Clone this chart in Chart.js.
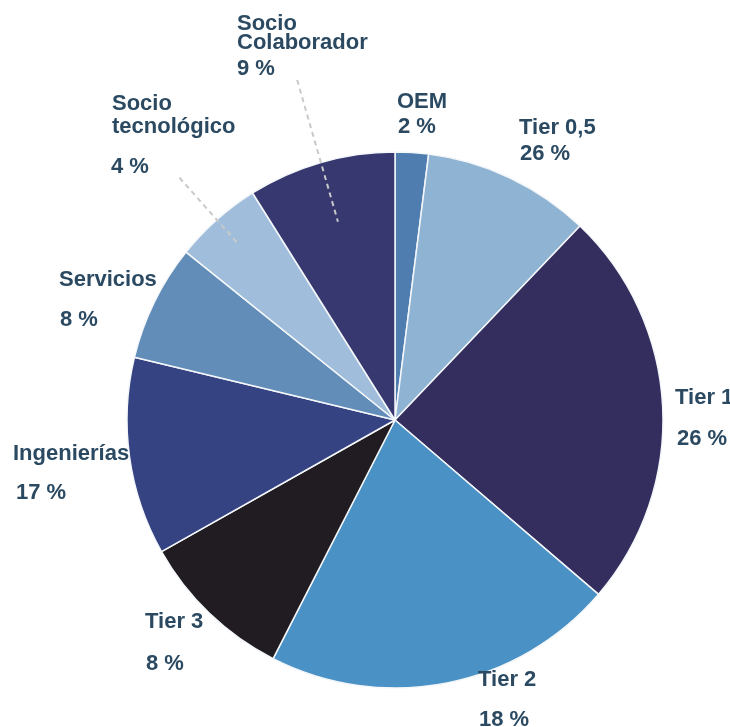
<!DOCTYPE html>
<html>
<head>
<meta charset="utf-8">
<script src="https://cdn.jsdelivr.net/npm/chart.js@4/dist/chart.umd.min.js"></script>
<style>
html,body{margin:0;padding:0;background:#fff;}
#wrap{position:relative;width:730px;height:727px;}
</style>
</head>
<body>
<div id="wrap"><canvas id="c" width="730" height="727"></canvas></div>
<script>
// Data (clockwise from 12 o'clock)
const categories = ['OEM', 'Tier 0,5', 'Tier 1', 'Tier 2', 'Tier 3', 'Ingenierías', 'Servicios', 'Socio tecnológico', 'Socio Colaborador'];
const sliceValues = [2.0, 10.1, 24.1, 21.2, 9.3, 11.9, 7.0, 5.3, 8.9];
const labelTexts = [['OEM'], ['Tier 0,5'], ['Tier 1'], ['Tier 2'], ['Tier 3'], ['Ingenierías'], ['Servicios'], ['Socio', 'tecnológico'], ['Socio', 'Colaborador']];
const percentLabels = ['2 %', '26 %', '26 %', '18 %', '8 %', '17 %', '8 %', '4 %', '9 %'];
const sliceColors = ['#4f7db0', '#8fb3d3', '#332e5e', '#4a91c5', '#211c21', '#364383', '#628db9', '#a0bedb', '#36386f'];

// Label layout (pixel baselines for name lines, then percentage line)
const labelLayout = [
  {x: 397, ys: [108], px: 398, py: 133},
  {x: 519, ys: [134], px: 520, py: 160},
  {x: 675, ys: [404], px: 677, py: 445},
  {x: 478, ys: [686], px: 479, py: 726},
  {x: 145, ys: [628], px: 146, py: 670},
  {x: 13,  ys: [460], px: 16,  py: 499},
  {x: 59,  ys: [286], px: 60,  py: 326},
  {x: 112, ys: [110, 133], px: 111, py: 173},
  {x: 237, ys: [30, 49], px: 237, py: 75}
];
// leader lines: [index, outer radius factor, inner radius factor]
const leaders = [[7, 1.21, 0.88], [8, 1.32, 0.77]];

const labelPlugin = {
  id: 'sliceLabels',
  afterDatasetsDraw(chart) {
    const ctx = chart.ctx;
    const meta = chart.getDatasetMeta(0);
    ctx.save();
    // leader lines
    ctx.strokeStyle = '#c9c9c9';
    ctx.lineWidth = 2;
    ctx.setLineDash([5, 4]);
    leaders.forEach(([i, ro, ri]) => {
      const arc = meta.data[i];
      const a = (arc.startAngle + arc.endAngle) / 2;
      const R = arc.outerRadius;
      ctx.beginPath();
      ctx.moveTo(arc.x + Math.cos(a) * R * ro, arc.y + Math.sin(a) * R * ro);
      ctx.lineTo(arc.x + Math.cos(a) * R * ri, arc.y + Math.sin(a) * R * ri);
      ctx.stroke();
    });
    ctx.setLineDash([]);
    ctx.fillStyle = '#2b4a62';
    ctx.font = 'bold 22px "Liberation Sans", Arial, sans-serif';
    ctx.textBaseline = 'alphabetic';
    ctx.textAlign = 'left';
    labelTexts.forEach((lines, i) => {
      const L = labelLayout[i];
      lines.forEach((t, k) => ctx.fillText(t, L.x, L.ys[k]));
      ctx.fillText(percentLabels[i], L.px, L.py);
    });
    ctx.restore();
  }
};

new Chart(document.getElementById('c'), {
  type: 'pie',
  data: {
    labels: categories,
    datasets: [{
      data: sliceValues,
      backgroundColor: sliceColors,
      borderColor: '#f4f7fa',
      borderWidth: 1.5,
      hoverOffset: 0
    }]
  },
  options: {
    responsive: false,
    animation: false,
    radius: 268,
    layout: {padding: {left: 60, right: 0, top: 113, bottom: 0}},
    plugins: {legend: {display: false}, tooltip: {enabled: false}},
    events: []
  },
  plugins: [labelPlugin]
});
</script>
</body>
</html>
